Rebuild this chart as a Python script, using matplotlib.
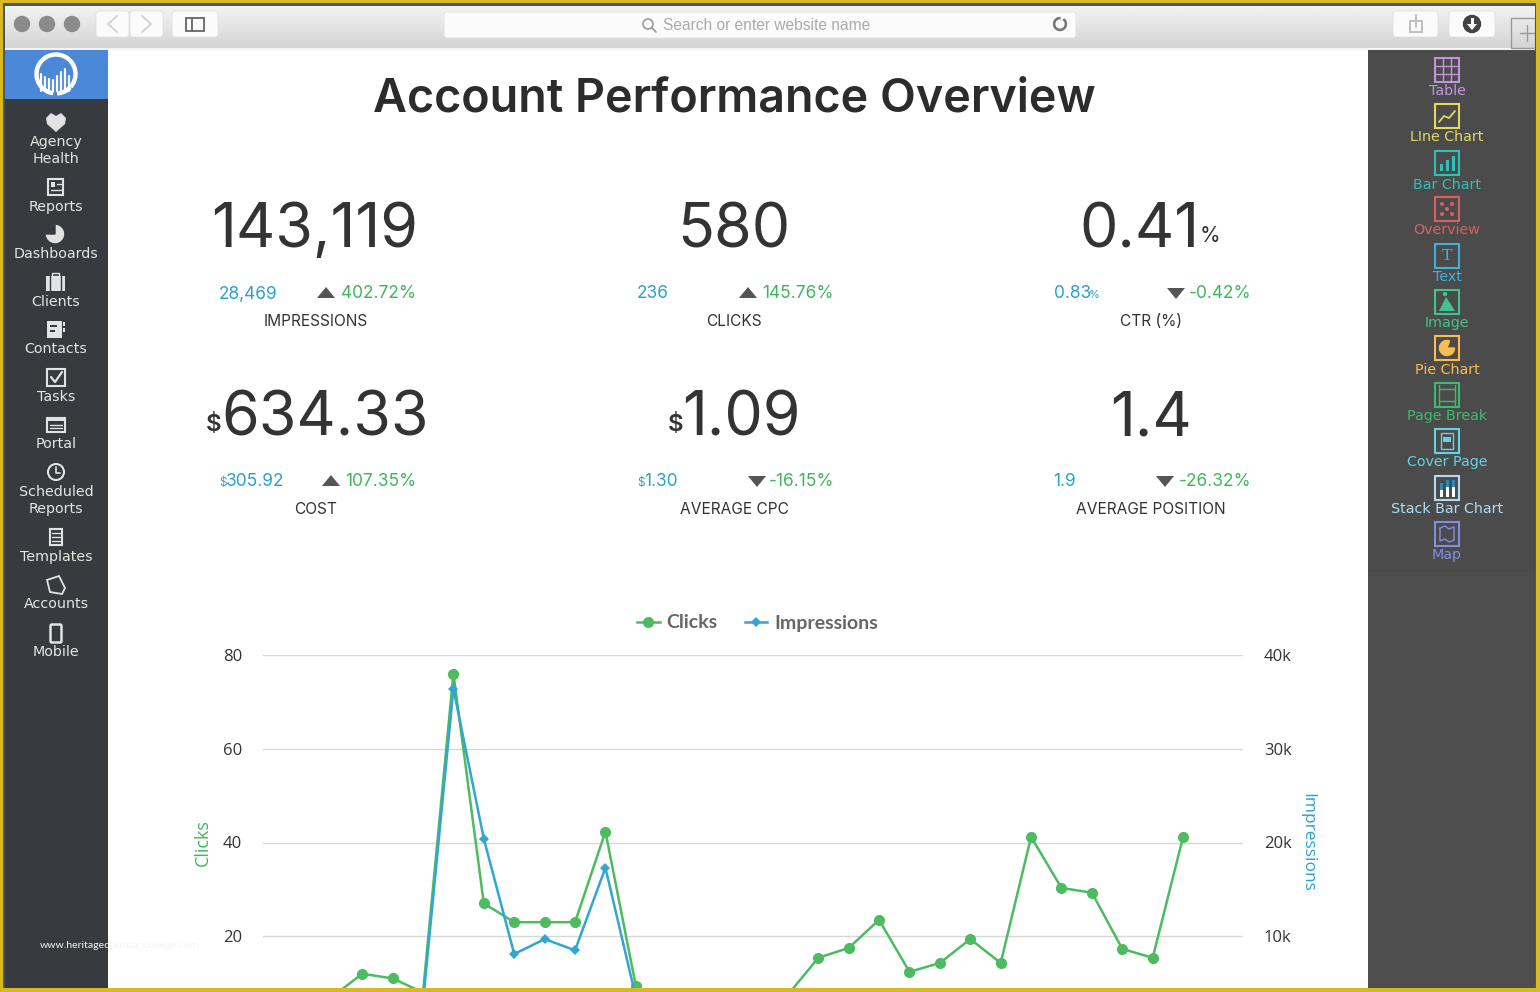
import matplotlib.pyplot as plt
import numpy as np
from matplotlib.patches import Circle, FancyBboxPatch, Rectangle, Wedge

def px_axes(zorder):
    ax = plt.axes([0, 0, 1, 1], zorder=zorder)
    ax.set_xlim(0, 1540)
    ax.set_ylim(992, 0)
    ax.axis('off')
    ax.patch.set_alpha(0)
    return ax

def rect(x0, y0, x1, y1, color, **kw):
    plt.gca().add_patch(Rectangle((x0, y0), x1 - x0, y1 - y0, facecolor=color, edgecolor='none', **kw))

def outline(x0, y0, x1, y1, color, lw=1.3):
    plt.gca().add_patch(Rectangle((x0, y0), x1 - x0, y1 - y0, facecolor='none', edgecolor=color, linewidth=lw))

def button(x0, y0, x1, y1, color='#fbfbfb'):
    plt.gca().add_patch(FancyBboxPatch((x0 + 3, y0 + 3), x1 - x0 - 6, y1 - y0 - 6, boxstyle='round,pad=3',
                                       facecolor=color, edgecolor='#dddddd', linewidth=0.5))

def label(x, y, s, px, color='#333333', ha='center', family='Inter', weight='normal'):
    plt.text(x, y + 1, s, fontsize=px * 0.72, color=color, ha=ha, va='center', family=family, weight=weight)

def triangle(x, y, up):
    sign = 1 if up else -1
    plt.fill([x - 9, x + 9, x], [y + 5 * sign, y + 5 * sign, y - 6 * sign], color='#555555', linewidth=0)

def stroke(xs, ys, color, lw=1.3):
    plt.plot(xs, ys, color=color, linewidth=lw, solid_capstyle='round')

# chart values, the low ones are cut off by the screenshot
clicks = [4, 5, 7, 12, 11, 8, 76, 27, 23, 23, 23, 42.3, 9.4, 4, 3, 3, 3, 7.5,
          15.4, 17.5, 23.5, 12.4, 14.3, 19.4, 14.3, 41.2, 30.3, 29.3, 17.3, 15.4, 41.2]
impressions = [1500, 1800, 2000, 2600, 2400, 3000, 36400, 20400, 8100, 9700, 8500, 17300, 3500, 1500,
               1200, 1100, 1300, 1800, 2800, 3000, 3400, 2300, 2600, 3000, 2500, 4000, 3600, 3000, 2400, 2200, 4000]
days = np.arange(len(clicks))

plt.figure(figsize=(15.4, 9.92), dpi=100)
px_axes(0)

# Window
plt.imshow(np.linspace(0.95, 0.83, 40).reshape(-1, 1), cmap='gray', vmin=0, vmax=1,
           extent=(5, 1535, 48, 6), aspect='auto', zorder=0)
plt.xlim(0, 1540)
plt.ylim(992, 0)
rect(5, 48, 1535, 50, '#f4f4f4')
for x in [22, 47, 72]:
    plt.gca().add_patch(Circle((x, 24), 7.5, color='#8b8b8b'))
button(96, 11, 129, 37)
button(130, 11, 163, 37)
stroke([117, 108, 117], [16, 24, 32], '#d0d0d0')
stroke([142, 151, 142], [16, 24, 32], '#d0d0d0')
button(172, 11, 218, 37)
outline(186, 18, 204, 31, '#666666')
stroke([192, 192], [18, 31], '#666666')
button(444, 12, 1076, 38)
plt.gca().add_patch(Circle((648, 24), 5, facecolor='none', edgecolor='#999999', linewidth=1.2))
stroke([652, 656], [28, 32], '#999999')
label(663, 24, 'Search or enter website name', 15.5, '#ababab', ha='left', family='Liberation Sans')
plt.gca().add_patch(Wedge((1060, 24), 6.5, -50, 270, width=1.2, color='#777777'))
button(1393, 11, 1438, 37)
outline(1410, 21, 1422, 32, '#bbbbbb')
stroke([1416, 1416], [15, 27], '#bbbbbb')
button(1449, 11, 1495, 37)
plt.gca().add_patch(Circle((1472, 24), 8.5, color='#444444'))
plt.fill([1467, 1477, 1472], [24, 24, 30], color='white', linewidth=0)
rect(1470.5, 18, 1473.5, 25, 'white')
outline(1511, 18, 1535, 48, '#999999', 1)
stroke([1520, 1535], [33, 33], '#999999', 1)
stroke([1527, 1527], [25, 41], '#999999', 1)

# Left menu
rect(5, 50, 108, 988, '#373b3f')
rect(5, 50, 108, 99, '#4b88d8')
plt.gca().add_patch(Wedge((56, 74), 21, 100, 400, width=3, color='white'))
plt.gca().add_patch(Wedge((56, 74), 21, 45, 85, width=3, color='white'))
for x, h in zip(range(41, 73, 4), [17, 14, 12, 11, 15, 19, 22, 15]):
    stroke([x, x], [91 - h, 91], 'white', 1.6)

menu = [('Agency', 141), ('Health', 158), ('Reports', 206), ('Dashboards', 253), ('Clients', 301),
        ('Contacts', 348), ('Tasks', 396), ('Portal', 443), ('Scheduled', 491), ('Reports', 508),
        ('Templates', 556), ('Accounts', 603), ('Mobile', 651)]
for name, y in menu:
    label(56, y, name, 14.2, '#e4e4e4', family='DejaVu Sans')

ICON = '#e2e2e2'
# heart
plt.fill([46, 51, 56, 61, 66, 65, 56, 47], [118, 113, 116, 113, 118, 124, 132, 124], color=ICON, linewidth=0)
# reports
outline(48, 179, 63, 195, ICON, 1.5)
rect(51, 182, 55, 187, ICON)
stroke([57, 61], [184, 184], ICON, 1)
stroke([51, 61], [190, 190], ICON, 1)
# dashboards
plt.gca().add_patch(Wedge((55, 234), 8.5, 0, 360, color=ICON))
plt.gca().add_patch(Wedge((55, 234), 9, 180, 270, color='#373b3f'))
# clients
rect(46, 276, 65, 291, ICON)
stroke([50, 50], [276, 291], '#373b3f', 1)
stroke([61, 61], [276, 291], '#373b3f', 1)
outline(52, 273, 59, 276, ICON, 1)
# contacts
rect(47, 321, 62, 338, ICON)
rect(50, 325, 57, 327, '#373b3f')
rect(50, 330, 55, 332, '#373b3f')
rect(63, 322, 65, 326, ICON)
rect(63, 328, 65, 332, ICON)
# tasks
outline(47, 369, 65, 386, ICON, 1.5)
stroke([51, 55, 62], [377, 382, 372], ICON, 1.6)
# portal
outline(47, 418, 65, 432, ICON, 1.5)
rect(47, 418, 65, 421, ICON)
stroke([50, 62], [425, 425], ICON, 1)
stroke([50, 62], [428, 428], ICON, 1)
# scheduled
plt.gca().add_patch(Circle((56, 472), 8, facecolor='none', edgecolor=ICON, linewidth=1.5))
stroke([56, 56, 60], [467, 473, 473], ICON, 1.2)
# templates
outline(50, 529, 62, 545, ICON, 1.5)
for y in [533, 537, 541]:
    stroke([52, 60], [y, y], ICON, 1)
# accounts
plt.fill([47, 59, 65, 62, 50], [580, 576, 588, 594, 592], facecolor='none', edgecolor=ICON, linewidth=1.3)
# mobile
plt.gca().add_patch(FancyBboxPatch((52, 626), 8, 15, boxstyle='round,pad=1.5', facecolor='#373b3f',
                                   edgecolor=ICON, linewidth=1.8))

# Right panel
rect(1368, 50, 1535, 572, '#4b4b4b')
rect(1368, 572, 1535, 988, '#4e4e4e')
panel = [('Table', 70, 89, '#c493dc'), ('LIne Chart', 116, 135, '#e3d85e'), ('Bar Chart', 163, 183, '#2fc0b6'),
         ('Overview', 209, 228, '#d85f62'), ('Text', 256, 275, '#3fb2da'), ('Image', 302, 321, '#45c08f'),
         ('Pie Chart', 348, 368, '#f7bd50'), ('Page Break', 395, 414, '#3dbb6c'),
         ('Cover Page', 441, 460, '#62d2e4'), ('Stack Bar Chart', 488, 507, '#b0dcf2'), ('Map', 534, 553, '#7f90e0')]
for name, y, ty, color in panel:
    label(1447, ty + 1, name, 14.2, color, family='DejaVu Sans')
    outline(1435, y - 12, 1459, y + 12, color, 1.5)
    if name == 'Table':
        for k in [-4, 4]:
            stroke([1435, 1459], [y + k, y + k], color, 1)
            stroke([1447 + k, 1447 + k], [y - 12, y + 12], color, 1)
    elif name == 'LIne Chart':
        stroke([1439, 1444, 1449, 1455], [y + 6, y, y + 2, y - 5], color)
    elif name == 'Bar Chart':
        rect(1440, y + 1, 1443, y + 8, color)
        rect(1446, y - 3, 1449, y + 8, color)
        rect(1452, y - 7, 1455, y + 8, color)
    elif name == 'Overview':
        for dx, dy in [(-5, -5), (5, -5), (0, 0), (-5, 5), (5, 5)]:
            plt.gca().add_patch(Circle((1447 + dx, y + dy), 1.3, color=color))
    elif name == 'Text':
        label(1447, y - 1, 'T', 17, color, family='Liberation Serif')
    elif name == 'Image':
        plt.fill([1439, 1446, 1450, 1455], [y + 9, y - 5, y + 1, y + 9], color=color, linewidth=0)
        plt.gca().add_patch(Circle((1445, y - 8), 1.5, color=color))
    elif name == 'Pie Chart':
        plt.gca().add_patch(Wedge((1447, y), 7.5, 0, 290, color=color))
    elif name == 'Page Break':
        for k in [-6, 6]:
            stroke([1439, 1455], [y + k, y + k], color, 1)
        stroke([1439, 1439], [y - 10, y + 10], color, 1)
        stroke([1455, 1455], [y - 10, y + 10], color, 1)
    elif name == 'Cover Page':
        outline(1441, y - 8, 1453, y + 8, color, 1)
        rect(1443, y - 4, 1451, y + 1, color)
    elif name == 'Stack Bar Chart':
        for x, h in [(1440, 14), (1446, 17), (1452, 17)]:
            rect(x, y + 9 - h, x + 3, y + 9, 'white')
            rect(x, y + 9 - h, x + 3, y + 9 - h + 7, '#2a8cb8')
    elif name == 'Map':
        stroke([1440, 1445, 1449, 1454, 1454, 1449, 1445, 1440, 1440], [y - 6, y - 8, y - 5, y - 7, y + 6, y + 8, y + 5, y + 7, y - 6], color, 1)

# Title and overview numbers
label(734, 99, 'Account Performance Overview', 46.7, '#2c2c2c', weight='semibold')

GREEN = '#41b55b'
BLUE = '#2ba0cf'
big = 61
label(315, 230, '143,119', big)
label(734, 230, '580', big)
label(1139, 230, '0.41', big)
label(1210, 235, '%', 21)
label(214, 424, '$', 24, weight='semibold')
label(325, 418, '634.33', big)
label(676, 424, '$', 24, weight='semibold')
label(741, 418, '1.09', big)
label(1151, 418, '1.4', big)

small = [(219, 293, '28,469', 326, True, 416, '402.72%', 316, 321, 'IMPRESSIONS'),
         (637, 293, '236', 748, True, 834, '145.76%', 734, 321, 'CLICKS'),
         (1054, 293, '0.83', 1176, False, 1251, '-0.42%', 1151, 321, 'CTR (%)'),
         (226, 481, '305.92', 331, True, 416, '107.35%', 316, 509, 'COST'),
         (644, 481, '1.30', 757, False, 834, '-16.15%', 734, 509, 'AVERAGE CPC'),
         (1053, 481, '1.9', 1165, False, 1251, '-26.32%', 1151, 509, 'AVERAGE POSITION')]
for x, y, prev, tx, up, gx, change, cx, ly, name in small:
    label(x, y, prev, 17.3, BLUE, ha='left')
    triangle(tx, y, up)
    label(gx, y, change, 17.3, GREEN, ha='right')
    label(cx, ly, name, 15.5, '#333333')
label(1089, 294, '%', 11, BLUE, ha='left')
label(219, 482, '$', 12, BLUE, ha='left')
label(637, 482, '$', 12, BLUE, ha='left')

# Chart
ax1 = plt.axes([263 / 1540, -38 / 992, 980 / 1540, 375 / 992], zorder=2)
ax1.patch.set_alpha(0)
l1, = plt.plot(days, clicks, color='#4dbb60', linewidth=1.8, marker='o', markersize=8, markeredgewidth=0)
plt.xlim(-0.263, 31.97)
plt.ylim(0, 80)
plt.yticks([20, 40, 60, 80], va='center_baseline')
plt.xticks([])
plt.grid(True, axis='y', color='#d8d8d8', linewidth=1)
ax1.set_axisbelow(True)
plt.tick_params(axis='y', length=0, pad=15, labelsize=12, labelcolor='#333333', labelfontfamily='Open Sans')
plt.ylabel('Clicks', color=GREEN, fontsize=13, labelpad=8, family='Open Sans')
for side in ax1.spines.values():
    side.set_visible(False)

ax2 = plt.twinx(ax1)
ax2.patch.set_alpha(0)
l2, = plt.plot(days, impressions, color='#33a5d3', linewidth=1.8, marker='D', markersize=5.5, markeredgewidth=0)
plt.ylim(0, 40000)
plt.yticks([10000, 20000, 30000, 40000], ['10k', '20k', '30k', '40k'], va='center_baseline')
plt.tick_params(axis='y', length=0, pad=15, labelsize=12, labelcolor='#333333', labelfontfamily='Open Sans')
plt.ylabel('Impressions', color=BLUE, fontsize=12.5, rotation=270, labelpad=17, family='Open Sans')
for side in ax2.spines.values():
    side.set_visible(False)
plt.legend([l1, l2], ['Clicks', 'Impressions'], ncol=2, frameon=False, loc='center', labelcolor='#666666',
           bbox_to_anchor=(757.5 / 1540, (992 - 623) / 992), bbox_transform=plt.gcf().transFigure,
           prop={'size': 14, 'weight': 'bold', 'family': 'Lato'}, handlelength=1.15, columnspacing=1.4,
           handletextpad=0.35)

# Screenshot border
px_axes(5)
rect(0, 0, 1540, 3, '#d9b91f')
rect(0, 988, 1540, 992, '#d9b91f')
rect(0, 0, 3, 992, '#d9b91f')
rect(1536, 0, 1540, 992, '#d9b91f')
rect(3, 3, 1536, 6, '#45586b')
rect(3, 3, 5, 988, '#45586b')
rect(1535, 3, 1536, 988, '#45586b')
label(120, 945, 'www.heritagechristiancollege.com', 10.5, '#f4f4f4', family='Lato')

plt.savefig('out.png', dpi=100)
